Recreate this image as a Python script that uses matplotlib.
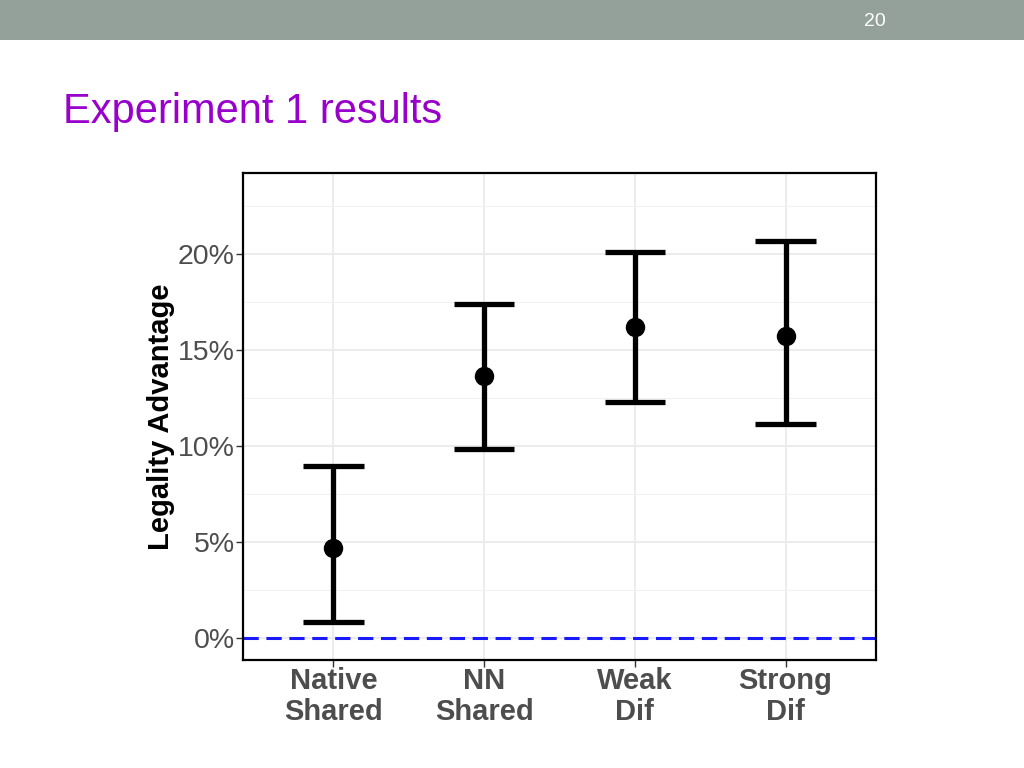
import numpy as np
import matplotlib.pyplot as plt
from matplotlib.patches import Rectangle
from matplotlib.ticker import FixedLocator, FuncFormatter

# data (percent)
groups = ['Native\nShared', 'NN\nShared', 'Weak\nDif', 'Strong\nDif']
means = [4.7, 13.65, 16.2, 15.7]
lower = [0.85, 9.85, 12.3, 11.15]
upper = [8.95, 17.4, 20.1, 20.65]

plt.rcParams['font.family'] = ['Liberation Sans', 'DejaVu Sans']

fig = plt.figure(figsize=(10.24, 7.68), dpi=100)

# slide header bar
fig.patches.append(Rectangle((0, 1 - 40 / 768), 1, 40 / 768, transform=fig.transFigure,
                             facecolor='#93a19a', edgecolor='none', zorder=0))
fig.text(875 / 1024, 1 - 21 / 768, '20', color='white', fontsize=14,
         ha='center', va='center')
fig.text(63 / 1024, 1 - 123 / 768, 'Experiment 1 results', color='#9900cc',
         fontsize=30, ha='left', va='baseline')

ax = fig.add_axes([243 / 1024, 1 - 660 / 768, 633 / 1024, 487 / 768])
x = np.arange(1, len(groups) + 1)

ax.set_xlim(0.4, 4.6)
ax.set_ylim(-1.15, 24.2)

# grid
ax.yaxis.set_major_locator(FixedLocator([0, 5, 10, 15, 20]))
ax.yaxis.set_minor_locator(FixedLocator([2.5, 7.5, 12.5, 17.5, 22.5]))
ax.set_xticks(x)
ax.grid(which='major', color='#ebebeb', lw=1.3, zorder=0)
ax.grid(which='minor', axis='y', color='#f2f2f2', lw=0.8, zorder=0)
ax.set_axisbelow(True)

ax.axhline(0, color='#1a1aff', lw=2.2, ls=(0, (5, 2.5)), zorder=2)

# error bars
ax.vlines(x, lower, upper, color='black', lw=3.8, zorder=3)
ax.hlines(lower, x - 0.2, x + 0.2, color='black', lw=3.8, zorder=3)
ax.hlines(upper, x - 0.2, x + 0.2, color='black', lw=3.8, zorder=3)
ax.plot(x, means, 'o', color='black', ms=13, zorder=4)

ax.yaxis.set_major_formatter(FuncFormatter(lambda v, p: '%d%%' % v))
ax.set_xticklabels(groups, fontsize=21, fontweight='bold', color='#4d4d4d',
                   linespacing=1.15)
ax.tick_params(axis='y', which='major', labelsize=20.5, labelcolor='#4d4d4d',
               length=5, width=1, color='#333333', pad=1)
ax.tick_params(axis='y', which='minor', length=0)
ax.tick_params(axis='x', length=5, width=1, color='#333333', pad=0)
ax.set_ylabel('Legality Advantage', fontsize=21, fontweight='bold',
              color='black', labelpad=2)

for s in ax.spines.values():
    s.set_linewidth(1.6)
    s.set_color('black')

fig.savefig('out.png', dpi=100)
